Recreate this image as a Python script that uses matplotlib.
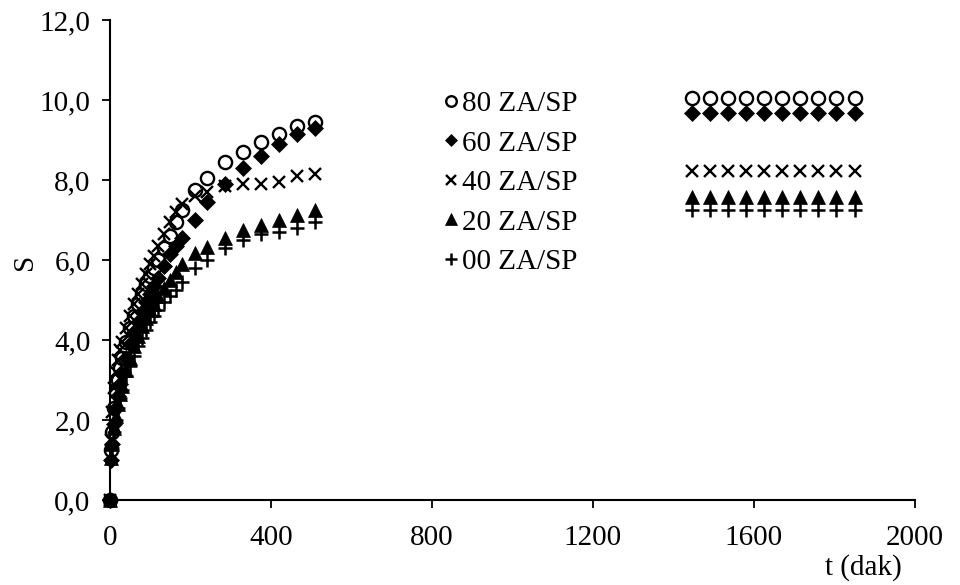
import matplotlib
matplotlib.use("Agg")
import matplotlib.pyplot as plt
from matplotlib.ticker import FuncFormatter

# Sampling times (min) for the first 8.5 hours
t_early = [0, 2, 5, 10, 15, 20, 25, 30, 40, 50, 60, 70, 80, 90, 100, 110,
           120, 135, 150, 165, 180, 210, 240, 285, 330, 375, 420, 465, 510]
# Sampling times (min) around 24 h
t_late = [1445, 1490, 1535, 1580, 1625, 1670, 1715, 1760, 1805, 1850]

s80_early = [0, 1.25, 1.7, 2.3, 2.7, 3.0, 3.3, 3.55, 3.95, 4.3, 4.6, 4.9, 5.15, 5.4,
             5.6, 5.8, 6.0, 6.3, 6.6, 6.95, 7.25, 7.75, 8.05, 8.45, 8.7, 8.95, 9.15,
             9.35, 9.45]
s60_early = [0, 1.0, 1.4, 1.9, 2.3, 2.6, 2.9, 3.15, 3.55, 3.9, 4.2, 4.45, 4.7, 4.95,
             5.15, 5.35, 5.55, 5.85, 6.15, 6.35, 6.55, 7.0, 7.45, 7.9, 8.3, 8.6, 8.9,
             9.15, 9.3]
s40_early = [0, 1.5, 2.2, 2.8, 3.2, 3.5, 3.75, 3.95, 4.3, 4.6, 4.9, 5.15, 5.4, 5.65,
             5.9, 6.1, 6.35, 6.65, 6.95, 7.2, 7.4, 7.6, 7.7, 7.85, 7.9, 7.9, 7.95,
             8.1, 8.15]
s20_early = [0, 1.05, 1.4, 1.8, 2.1, 2.4, 2.65, 2.85, 3.25, 3.55, 3.85, 4.1, 4.35,
             4.55, 4.75, 4.9, 5.1, 5.3, 5.5, 5.7, 5.9, 6.17, 6.33, 6.55, 6.75, 6.88,
             7.0, 7.12, 7.25]
s00_early = [0, 1.0, 1.3, 1.7, 2.0, 2.3, 2.55, 2.75, 3.1, 3.35, 3.6, 3.85, 4.05, 4.25,
             4.45, 4.6, 4.75, 4.95, 5.1, 5.25, 5.45, 5.8, 6.0, 6.3, 6.5, 6.65, 6.7,
             6.8, 6.95]

s80_late = [10.05] * 10
s60_late = [9.68] * 10
s40_late = [8.22] * 10
s20_late = [7.58] * 10
s00_late = [7.25] * 10

labels = ["80 ZA/SP", "60 ZA/SP", "40 ZA/SP", "20 ZA/SP", "00 ZA/SP"]
x_ticks = [0, 400, 800, 1200, 1600, 2000]
y_ticks = [0, 2, 4, 6, 8, 10, 12]

plt.rcParams["font.family"] = ["Liberation Serif", "DejaVu Serif"]
FS = 21

fig = plt.figure(figsize=(9.6, 5.85), dpi=100)
ax = fig.add_axes([0.1146, 0.1453, 0.8385, 0.8205])

styles = [
    dict(marker="o", markerfacecolor="white", markeredgecolor="black", markersize=9.5, markeredgewidth=1.7),
    dict(marker="D", markerfacecolor="black", markeredgecolor="black", markersize=8, markeredgewidth=0.5),
    dict(marker="x", color="black", markersize=9, markeredgewidth=1.7),
    dict(marker="^", markerfacecolor="black", markeredgecolor="black", markersize=10, markeredgewidth=0.5),
    dict(marker="+", color="black", markersize=10.5, markeredgewidth=1.8),
]
early = [s80_early, s60_early, s40_early, s20_early, s00_early]
late = [s80_late, s60_late, s40_late, s20_late, s00_late]

for lab, st, ye, yl in zip(labels, styles, early, late):
    ax.plot(t_early + t_late, ye + yl, linestyle="none", label=lab, clip_on=False, **st)

ax.set_xlim(0, 2000)
ax.set_ylim(0, 12)
ax.set_xticks(x_ticks)
ax.set_yticks(y_ticks)
ax.yaxis.set_major_formatter(FuncFormatter(lambda v, p: f"{v:.1f}".replace(".", ",")))
ax.xaxis.set_major_formatter(FuncFormatter(lambda v, p: f"{v:.0f}"))
ax.tick_params(direction="out", length=6, width=1.3, labelsize=FS)
ax.tick_params(axis="x", pad=12)
ax.tick_params(axis="y", pad=8)
for side in ("top", "right"):
    ax.spines[side].set_visible(False)
for side in ("left", "bottom"):
    ax.spines[side].set_linewidth(1.5)

ax.text(-0.1056, 0.496, "S", transform=ax.transAxes, rotation=90,
        fontsize=FS, ha="center", va="center")
ax.text(1871, -1.68, "t (dak)", fontsize=FS, ha="center", va="center")

leg = ax.legend(loc="upper left", bbox_to_anchor=(0.414, 0.853), frameon=False,
                fontsize=FS, markerscale=0.8, handlelength=0.5, handletextpad=0.15,
                labelspacing=0.45, borderaxespad=0, borderpad=0)

fig.savefig("out.png", dpi=100)
